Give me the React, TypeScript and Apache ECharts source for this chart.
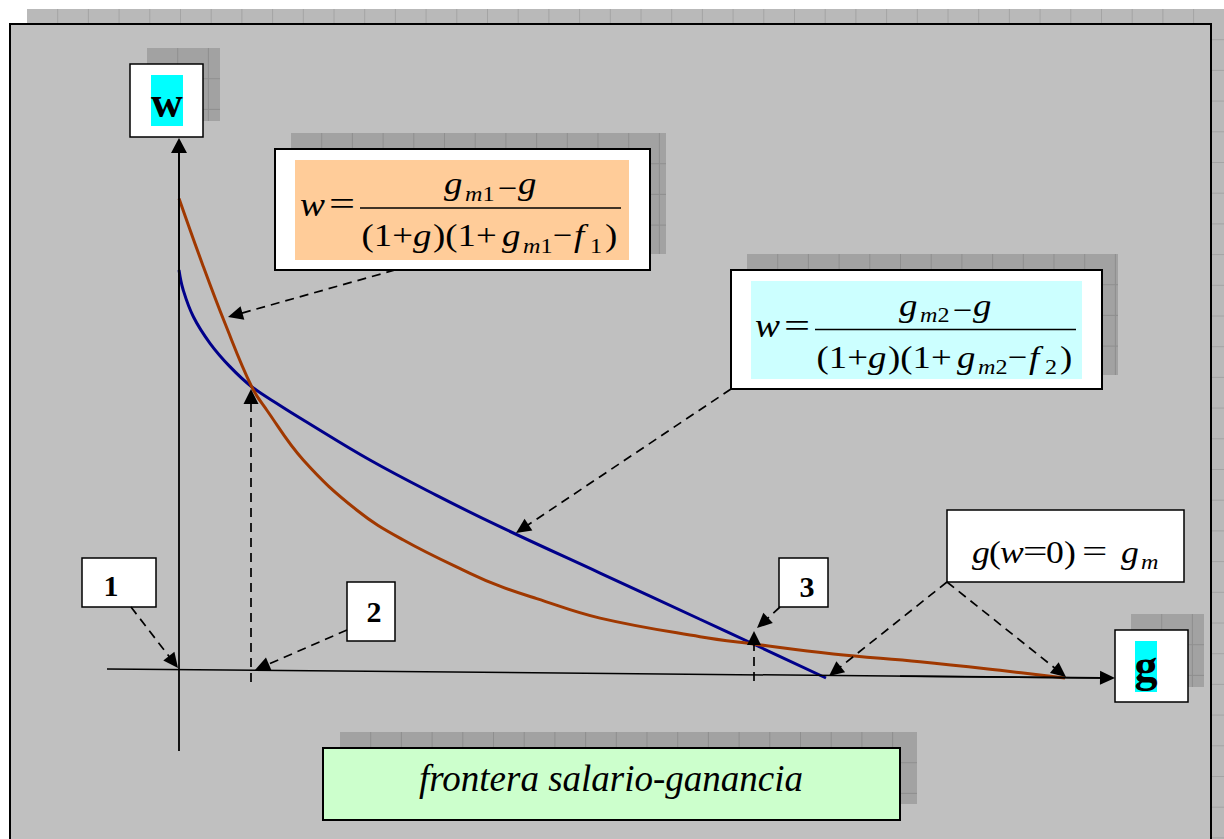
import React, { useEffect, useRef } from "react";
import * as echarts from "echarts";

// Frontier 1 (brown curve, g_m1, f_1): profit rate g and wage w
const redG = [0, 0.011, 0.0208, 0.0328, 0.0396, 0.0561, 0.0802, 0.1013, 0.1314, 0.1449, 0.1615, 0.1901, 0.2352, 0.2593, 0.2954, 0.3345, 0.3707, 0.4];
const redW = [0.801, 0.687, 0.592, 0.4865, 0.4476, 0.364, 0.2806, 0.2305, 0.1749, 0.1533, 0.1325, 0.1, 0.069, 0.0568, 0.0401, 0.0272, 0.0128, 0];

// Frontier 2 (navy curve, g_m2, f_2)
const blueG = [0, 0.0019, 0.0065, 0.014, 0.023, 0.0328, 0.0456, 0.0561, 0.0862, 0.1163, 0.1449, 0.1901, 0.2352, 0.2593, 0.2921];
const blueW = [0.6814, 0.648, 0.6034, 0.559, 0.52, 0.4865, 0.4551, 0.4309, 0.364, 0.305, 0.2527, 0.1753, 0.0981, 0.0568, 0];

const gMax = 0.4;
const wMax = 0.8;

const labelW = "w";
const labelG = "g";
const pointLabels = ["1", "2", "3"];
const titleText = "frontera salario-ganancia";

const SERIF = "'Liberation Serif', 'Times New Roman', Times, serif";

type O = { i?: boolean; b?: boolean; a?: string; sx?: number };
const txt = (x: number, base: number, s: string, size: number, o: O = {}) => ({
  type: "text",
  z: 30,
  x,
  y: base - 0.34 * size,
  scaleX: o.sx || 1,
  silent: true,
  style: {
    text: s,
    fontSize: size,
    fontFamily: SERIF,
    fontStyle: o.i ? "italic" : "normal",
    fontWeight: o.b ? "bold" : "normal",
    fill: "#000",
    align: o.a || "left",
    verticalAlign: "middle",
  },
});

const rect = (x: number, y: number, w: number, h: number, fill: string, stroke: string | null, lw: number, z: number) => ({
  type: "rect",
  z,
  silent: true,
  shape: { x, y, width: w, height: h },
  style: stroke ? { fill, stroke, lineWidth: lw } : { fill },
});

const line = (x1: number, y1: number, x2: number, y2: number, stroke: string, lw: number, z: number, dash?: number[]) => ({
  type: "line",
  z,
  silent: true,
  shape: { x1, y1, x2, y2 },
  style: dash ? { stroke, lineWidth: lw, lineDash: dash } : { stroke, lineWidth: lw },
});

const shadow = (x: number, y: number, w: number, h: number, fill: string, lc: string, z: number) => {
  const els: any[] = [rect(x, y, w, h, fill, null, 0, z)];
  const step = 30.7;
  for (let k = 1; k * step < w; k++) els.push(line(x + k * step, y, x + k * step, y + h, lc, 1, z));
  for (let k = 1; k * step < h; k++) els.push(line(x, y + k * step, x + w, y + k * step, lc, 1, z));
  return els;
};

const arrow = (x1: number, y1: number, x2: number, y2: number, dashed: boolean, len = 15, hw = 7) => {
  const dx = x2 - x1;
  const dy = y2 - y1;
  const L = Math.hypot(dx, dy);
  const ux = dx / L;
  const uy = dy / L;
  const bx = x2 - ux * len;
  const by = y2 - uy * len;
  return [
    line(x1, y1, bx + ux * 2, by + uy * 2, "#000", dashed ? 1.7 : 1.6, 25, dashed ? [9, 6] : undefined),
    {
      type: "polygon",
      z: 26,
      silent: true,
      shape: { points: [[x2, y2], [bx - uy * hw, by + ux * hw], [bx + uy * hw, by - ux * hw]] },
      style: { fill: "#000" },
    },
  ];
};

const SX = 1.15;
const formula = (ox: number, oy: number, d: string) => [
  txt(300 + ox, 216 + oy, "w", 34, { i: true, sx: 1.1 }),
  txt(329 + ox, 215.5 + oy, "=", 33, { sx: 1.4 }),
  line(360 + ox, 208 + oy, 621 + ox, 208 + oy, "#000", 1.5, 30),
  // numerator
  txt(444 + ox, 194 + oy, "g", 32, { i: true, sx: SX }),
  txt(465 + ox, 201 + oy, "m", 21, { i: true, sx: SX }),
  txt(482.5 + ox, 201 + oy, d, 21, { sx: SX }),
  txt(498 + ox, 198 + oy, "\u2212", 30, { sx: SX }),
  txt(518 + ox, 194 + oy, "g", 32, { i: true, sx: SX }),
  // denominator
  txt(361.5 + ox, 246 + oy, "(1+", 32, { sx: SX }),
  txt(413 + ox, 246 + oy, "g", 32, { i: true, sx: SX }),
  txt(433 + ox, 246 + oy, ")(1+", 32, { sx: SX }),
  txt(502 + ox, 246 + oy, "g", 32, { i: true, sx: SX }),
  txt(523 + ox, 253 + oy, "m", 21, { i: true, sx: SX }),
  txt(540.5 + ox, 253 + oy, d, 21, { sx: SX }),
  txt(553 + ox, 245 + oy, "\u2212", 30, { sx: SX }),
  txt(574 + ox, 246 + oy, "f", 32, { i: true, sx: SX }),
  txt(590 + ox, 253 + oy, d, 21, { sx: SX }),
  txt(605 + ox, 246 + oy, ")", 32, { sx: SX }),
];

function buildGraphic() {
  const els: any[] = [];
  // page shadow + panel
  els.push(...shadow(27, 9, 1197, 830, "#b9b9b9", "#a4a4a4", 0));
  els.push(rect(10, 24, 1201, 830, "#c0c0c0", "#000", 2, 1));

  const inFill = "#a2a2a2";
  const inLine = "#8f8f8f";

  // w label
  els.push(...shadow(147, 48, 73, 73, inFill, inLine, 2));
  els.push(rect(130, 64, 73, 73, "#fff", "#000", 1.5, 3));
  els.push(rect(151, 75, 32, 51, "#00ffff", null, 0, 4));
  els.push(txt(167, 117, labelW, 44, { b: true, a: "center" }));

  // g label
  els.push(...shadow(1131, 614, 73, 73, inFill, inLine, 2));
  els.push(rect(1115, 630, 73, 72, "#fff", "#000", 1.5, 3));
  els.push(rect(1135, 641, 22, 51, "#00ffff", null, 0, 4));
  els.push(txt(1146, 681, labelG, 46, { b: true, a: "center" }));

  // red formula box
  els.push(...shadow(291, 133, 375, 121, inFill, inLine, 2));
  els.push(rect(275, 149, 375, 121, "#fff", "#000", 2, 3));
  els.push(rect(295, 160, 334, 100, "#ffcc99", null, 0, 4));
  els.push(...formula(0, 0, "1"));

  // blue formula box
  els.push(...shadow(747, 254, 371, 121, inFill, inLine, 2));
  els.push(rect(731, 270, 371, 119, "#fff", "#000", 2, 3));
  els.push(rect(751, 281, 331, 98, "#ccffff", null, 0, 4));
  els.push(...formula(455, 121.5, "2"));

  // g(w=0) = g_m box
  els.push(rect(947, 510, 237, 72, "#fff", "#000", 1.5, 3));
  els.push(
    txt(972, 563, "g", 31, { i: true, sx: SX }),
    txt(989, 563, "(", 31, { sx: SX }),
    txt(1000, 563, "w", 31, { i: true, sx: SX }),
    txt(1023, 562, "=", 31, { sx: 1.4 }),
    txt(1046, 563, "0", 31, { sx: SX }),
    txt(1064, 563, ")", 31, { sx: SX }),
    txt(1082, 562, "=", 31, { sx: 1.45 }),
    txt(1121, 563, "g", 31, { i: true, sx: SX }),
    txt(1141, 569, "m", 21, { i: true, sx: SX })
  );

  // numbered boxes
  els.push(rect(82, 558, 74, 49, "#fff", "#000", 1.5, 3));
  els.push(txt(111, 596, pointLabels[0], 30, { b: true, a: "center" }));
  els.push(rect(347, 582, 48, 59, "#fff", "#000", 1.5, 3));
  els.push(txt(374, 622, pointLabels[1], 30, { b: true, a: "center" }));
  els.push(rect(779, 558, 49, 49, "#fff", "#000", 1.5, 3));
  els.push(txt(807, 597, pointLabels[2], 30, { b: true, a: "center" }));

  // title box
  els.push(...shadow(340, 732, 577, 72, inFill, inLine, 2));
  els.push(rect(323, 748, 577, 72, "#ccffcc", "#000", 2, 3));
  els.push(txt(611, 791, titleText, 37, { i: true, a: "center" }));

  // axes
  els.push(line(179, 751, 179, 150, "#000", 1.8, 24));
  els.push(...arrow(179, 300, 179, 138, false, 15, 8));
  els.push(line(107, 669, 1102, 677.9, "#000", 1.5, 24));
  els.push(...arrow(900, 676.1, 1115, 678, false, 15, 7));

  // dashed guides and pointers
  els.push(...arrow(251, 682, 251, 389, true, 15, 7.5));
  els.push(...arrow(754, 681, 754, 631, true, 14, 7));
  els.push(...arrow(131, 607, 178, 668, true));
  els.push(...arrow(347, 630, 255, 670, true));
  els.push(...arrow(395, 270, 228, 317, true));
  els.push(...arrow(731, 389, 516, 533, true));
  els.push(...arrow(780, 607, 757, 628, true));
  els.push(...arrow(947, 582, 829, 676, true));
  els.push(...arrow(947, 582, 1066, 677, true));
  return els;
}

export default function App() {
  const ref = useRef<HTMLDivElement>(null);
  useEffect(() => {
    if (!ref.current) return;
    const chart = echarts.init(ref.current, undefined, { renderer: "svg" });
    chart.setOption({
      animation: false,
      backgroundColor: "#ffffff",
      grid: { left: 179, top: 199, width: 886, height: 479 },
      xAxis: { type: "value", min: 0, max: gMax, show: false },
      yAxis: { type: "value", min: 0, max: wMax, show: false },
      graphic: { elements: buildGraphic() },
      series: [
        {
          type: "line",
          name: "frontier 2",
          data: blueG.map((g, i) => [g, blueW[i]]),
          showSymbol: false,
          smooth: 0.4,
          clip: false,
          silent: true,
          z: 5,
          lineStyle: { color: "#00008a", width: 3 },
        },
        {
          type: "line",
          name: "frontier 1",
          data: redG.map((g, i) => [g, redW[i]]),
          showSymbol: false,
          smooth: 0.4,
          clip: false,
          silent: true,
          z: 6,
          lineStyle: { color: "#a03800", width: 3 },
        },
      ],
    });
    return () => chart.dispose();
  }, []);
  return (
    <div
      ref={ref}
      style={{ position: "absolute", left: 0, top: 0, width: 1224, height: 839 }}
    />
  );
}
